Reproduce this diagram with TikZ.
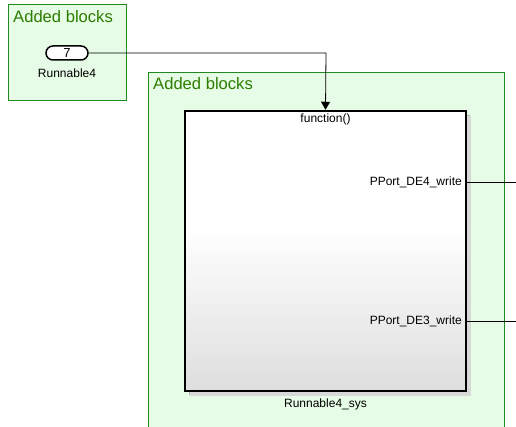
\documentclass[tikz,border=0pt]{standalone}
\usepackage{fontspec}
\setmainfont{Liberation Sans}
\usetikzlibrary{arrows.meta}
\definecolor{areafill}{RGB}{230,252,230}
\definecolor{areadraw}{RGB}{30,140,30}
\definecolor{areatext}{RGB}{45,125,0}
\definecolor{blkgrey}{RGB}{222,222,222}
\tikzset{
  area/.style={draw=areadraw, fill=areafill, line width=1pt},
  areatitle/.style={anchor=west, text=areatext, font=\fontsize{16.6}{18}\selectfont, inner sep=0pt},
  lbl/.style={font=\fontsize{12}{14}\selectfont, inner sep=0pt},
  wire/.style={line width=0.8pt, draw=black},
}
\begin{document}
\begin{tikzpicture}[x=1pt,y=1pt]
\useasboundingbox (0,0) rectangle (516,426);
% small area
\path[area] (8,325) rectangle (126,421);
\node[areatitle] (t1) at (13,409) {Added blocks};
% big area
\path[area] (148,353) rectangle (504,-5);
\node[areatitle] (t2) at (153,342) {Added blocks};
% inport oval
\node[draw, line width=1.5pt, fill=white, rounded corners=7pt, minimum width=42pt, minimum height=14pt, inner sep=0pt, font=\fontsize{13}{14}\selectfont] (in) at (67,373) {7};
\node[lbl] (inl) at (67,353) {Runnable4};
% shadow
\fill[black!30] (189,31) rectangle (470,311);
\fill[black!15] (190,30) rectangle (471,310);
% block
\fill[white] (185,200) rectangle (466,315);
\shade[top color=white, bottom color=blkgrey] (185,35) rectangle (466,200.5);
\node[draw, line width=2.5pt, minimum width=281pt, minimum height=280pt, inner sep=0pt] (blk) at (325.5,175) {};
\node[lbl] (fn) at (325.5,307) {function()};
\node[lbl, anchor=east] (p4) at (462,244) {PPort\_DE4\_write};
\node[lbl, anchor=east] (p3) at (462,105) {PPort\_DE3\_write};
\node[lbl] (bl) at (325.5,22) {Runnable4\_sys};
\coordinate (o4) at (516,244);
\coordinate (o3) at (516,105);
% wires
\draw[wire, -{Triangle[length=8pt,width=9pt]}] (in.east) -- (326,373) -- (blk.north);
\draw[wire] (blk.east |- p4) -- (o4);
\draw[wire] (blk.east |- p3) -- (o3);
\end{tikzpicture}
\end{document}
